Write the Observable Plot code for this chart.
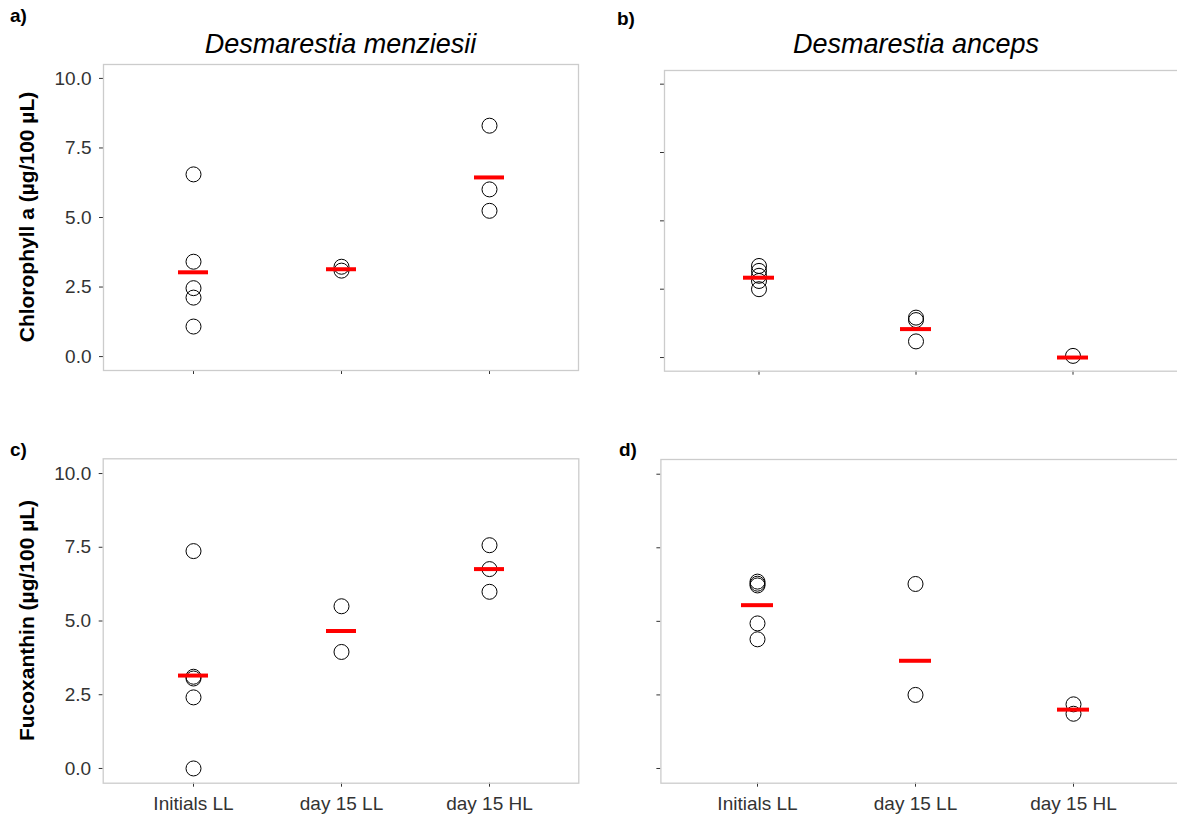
<!DOCTYPE html>
<html><head><meta charset="utf-8">
<script src="https://cdn.jsdelivr.net/npm/d3@7"></script>
<script src="https://cdn.jsdelivr.net/npm/@observablehq/plot@0.6"></script>
<style>
body{margin:0;background:#fff;}
#root{position:relative;width:1177px;height:816px;overflow:hidden;font-family:"Liberation Sans",Arial,sans-serif;background:#fff;}
.panel{position:absolute;}
#overlay{position:absolute;left:0;top:0;pointer-events:none;}
</style></head>
<body><div id="root"></div>
<script>
// ---- data ----
const categories = ["Initials LL", "day 15 LL", "day 15 HL"];
const species = ["Desmarestia menziesii", "Desmarestia anceps"];
const yTicks = [0, 2.5, 5, 7.5, 10];

// Chlorophyll a, D. menziesii
const chlMenziesii = [[6.55, 3.41, 2.46, 2.12, 1.08], [3.23, 3.09], [8.30, 6.01, 5.24]];
const chlMenziesiiMean = [3.03, 3.14, 6.44];
// Chlorophyll a, D. anceps
const chlAnceps = [[3.35, 3.17, 2.99, 2.80, 2.50], [1.46, 1.37, 0.59], [0.06]];
const chlAncepsMean = [2.92, 1.04, 0.0];
// Fucoxanthin, D. menziesii
const fucoMenziesii = [[7.37, 3.11, 3.05, 2.41, 0.0], [5.50, 3.95], [7.57, 6.76, 5.99]];
const fucoMenziesiiMean = [3.15, 4.66, 6.76];
// Fucoxanthin, D. anceps
const fucoAnceps = [[6.35, 6.28, 6.22, 4.93, 4.39], [6.27, 2.50], [2.18, 1.86]];
const fucoAncepsMean = [5.55, 3.66, 2.00];

const root = document.getElementById("root");

function panel(o) {
  const pts = [];
  categories.forEach((c, i) => o.values[i].forEach(v => pts.push({cat: c, v})));
  const means = categories.map((c, i) => ({cat: c, v: o.means[i]}));
  const p = Plot.plot({
    width: o.width, height: o.height,
    marginLeft: o.mL, marginRight: o.mR, marginTop: o.mT, marginBottom: o.mB,
    style: {fontFamily: "'Liberation Sans', Arial, sans-serif", fontSize: "19px", color: "#333", background: "transparent", overflow: "visible"},
    x: {type: "band", domain: categories, paddingInner: 0.8, paddingOuter: 0.5, label: null, tickSize: 4, tickPadding: 9,
        tickFormat: o.showX ? (d => d) : (() => "")},
    y: {domain: [-0.5, 10.5], ticks: yTicks, label: null, tickSize: 4, tickPadding: 8,
        tickFormat: o.showY ? d3.format(".1f") : (() => "")},
    marks: [
      Plot.frame({stroke: "#cccccc", strokeWidth: 1.3, insetRight: o.frameInsetRight || 0}),
      Plot.dot(pts, {x: "cat", y: "v", r: 7.5, stroke: "#000", strokeWidth: 1, fill: "none"}),
      Plot.tickY(means, {x: "cat", y: "v", stroke: "#ff0000", strokeWidth: 4})
    ]
  });
  p.classList.add("panel");
  p.style.left = o.left + "px";
  p.style.top = o.top + "px";
  root.appendChild(p);
}

panel({values: chlMenziesii, means: chlMenziesiiMean, left: 0, top: 0, width: 590, height: 400,
  mL: 103, mR: 12, mT: 64, mB: 30, showX: false, showY: true});
panel({values: chlAnceps, means: chlAncepsMean, left: 600, top: 0, width: 577, height: 400,
  mL: 64, mR: 9.4, mT: 70, mB: 29.3, showX: false, showY: false, frameInsetRight: -14});
panel({values: fucoMenziesii, means: fucoMenziesiiMean, left: 0, top: 400, width: 590, height: 416,
  mL: 102.7, mR: 11.7, mT: 58.3, mB: 33.3, showX: true, showY: true});
panel({values: fucoAnceps, means: fucoAncepsMean, left: 600, top: 400, width: 577, height: 416,
  mL: 60.4, mR: 8.4, mT: 59, mB: 33.3, showX: true, showY: false, frameInsetRight: -14});

// ---- text overlay ----
const svg = d3.select(root).append("svg").attr("id", "overlay")
  .attr("width", 1177).attr("height", 816)
  .style("font-family", "'Liberation Sans', Arial, sans-serif");

const tags = [["a)", 10, 22], ["b)", 617, 25], ["c)", 10, 456], ["d)", 619, 456]];
tags.forEach(([t, x, y]) => svg.append("text").attr("x", x).attr("y", y)
  .attr("font-weight", "bold").attr("font-size", 19).attr("fill", "#000").text(t));

const titles = [[species[0], 340.5, 53], [species[1], 916, 53]];
titles.forEach(([t, x, y]) => svg.append("text").attr("x", x).attr("y", y)
  .attr("text-anchor", "middle").attr("font-style", "italic").attr("font-size", 27).attr("fill", "#000").text(t));

const ytitles = [["Chlorophyll a (µg/100 µL)", 34, 217], ["Fucoxanthin (µg/100 µL)", 34, 620.5]];
ytitles.forEach(([t, x, y]) => svg.append("text")
  .attr("transform", `translate(${x},${y}) rotate(-90)`)
  .attr("text-anchor", "middle").attr("font-weight", "bold").attr("font-size", 21).attr("fill", "#000").text(t));
</script>
</body></html>
